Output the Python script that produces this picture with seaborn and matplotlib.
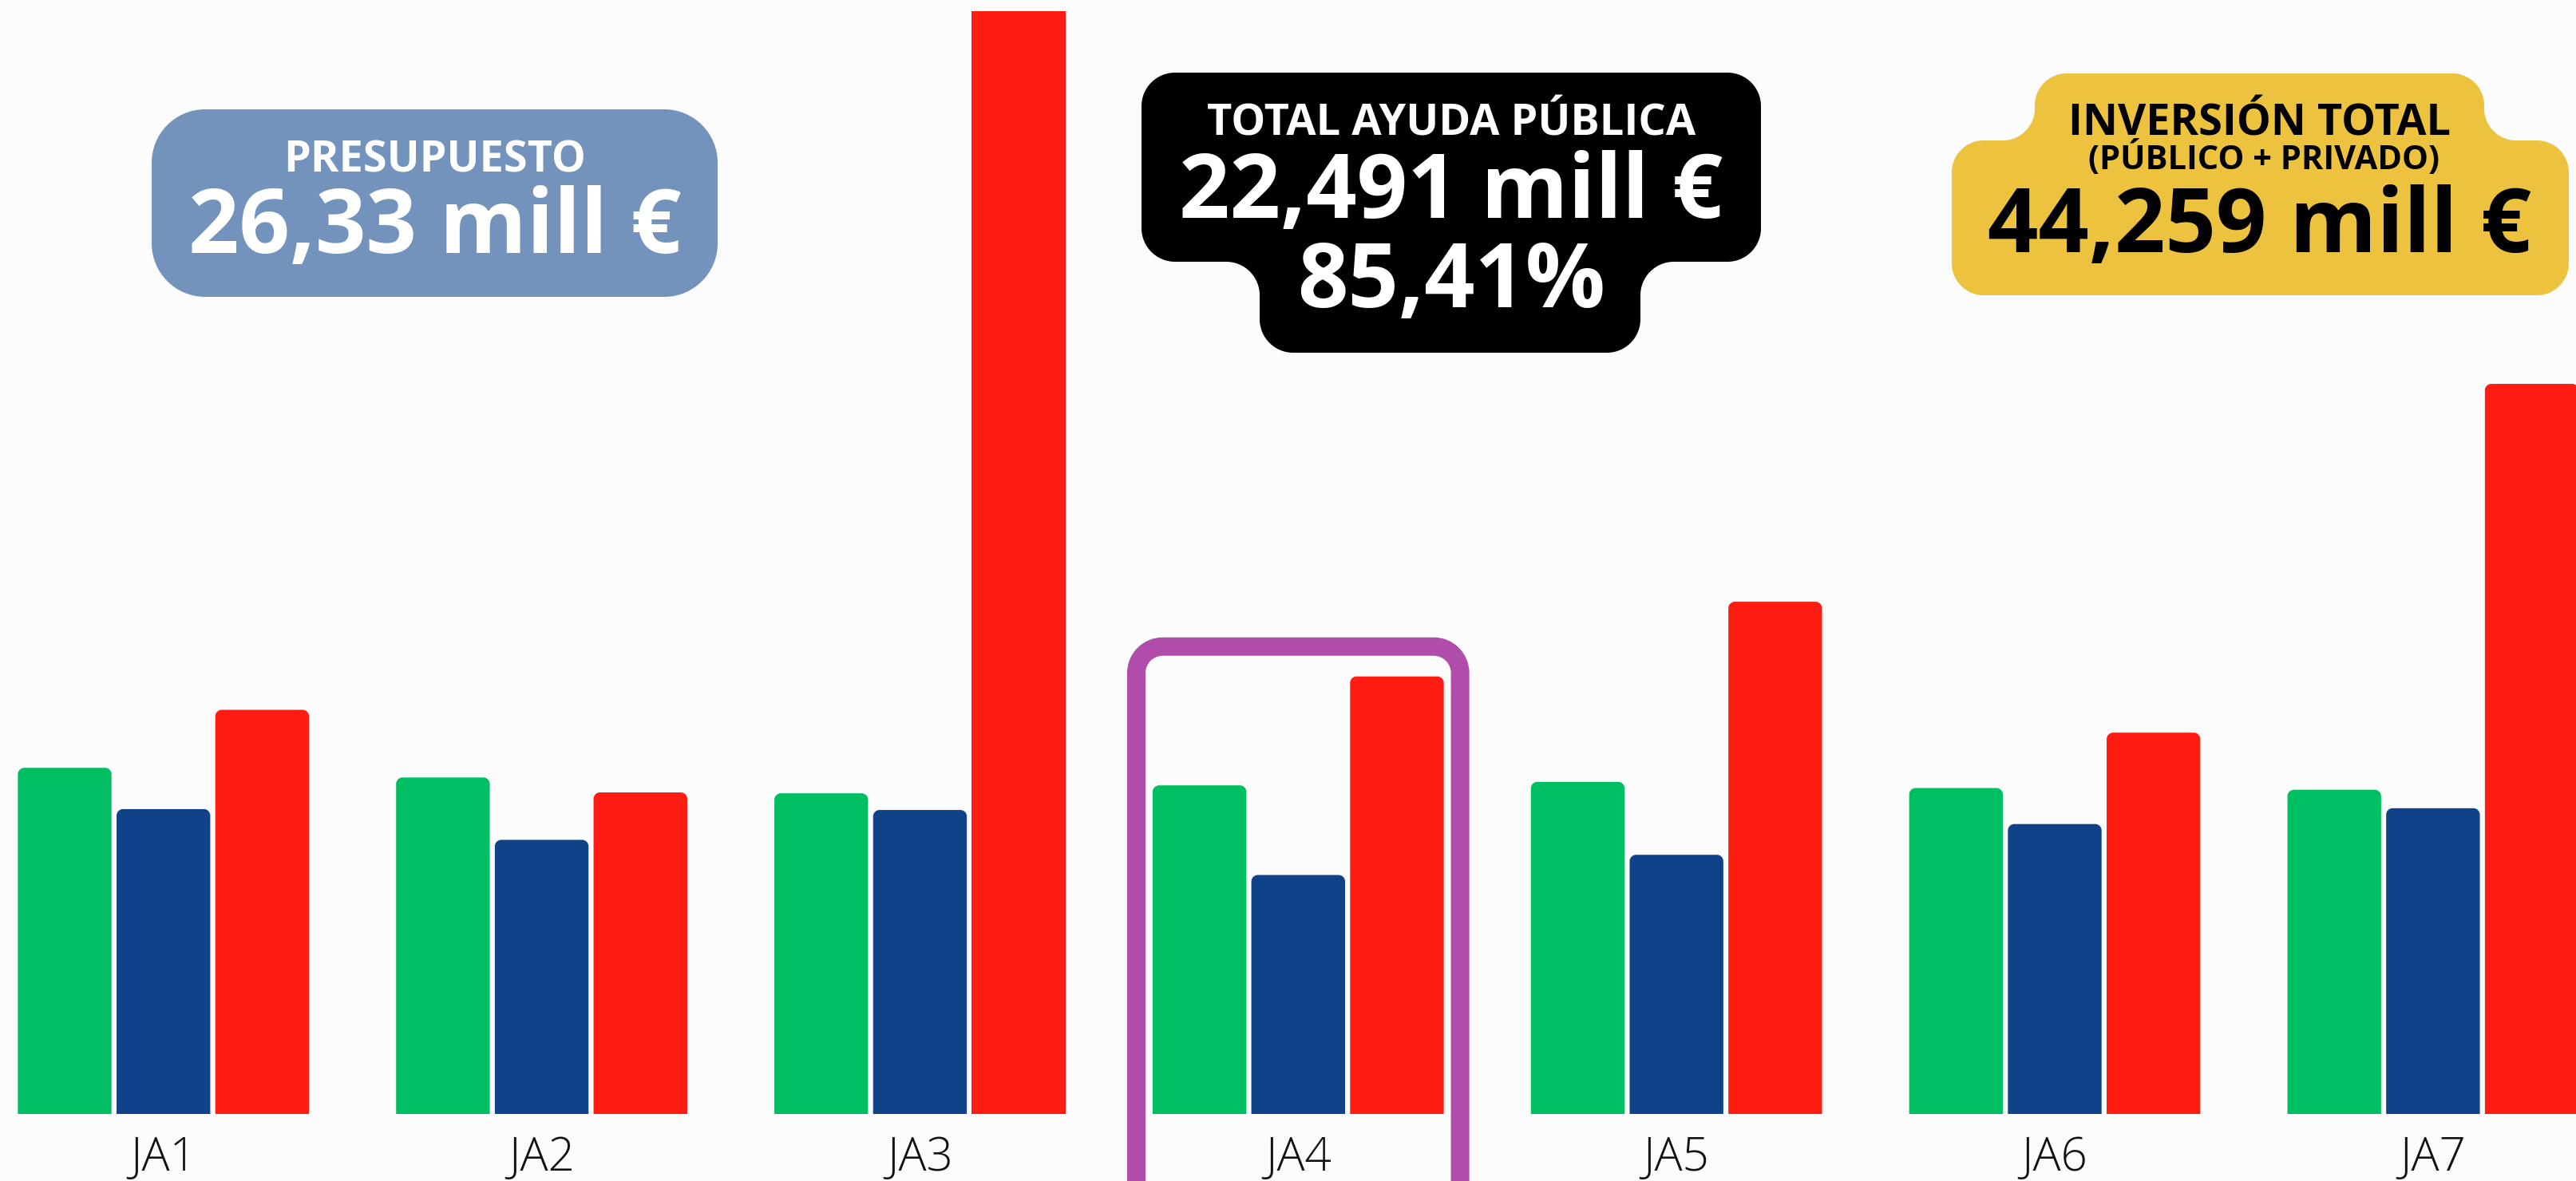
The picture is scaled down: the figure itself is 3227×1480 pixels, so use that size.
import numpy as np
import pandas as pd
import matplotlib
matplotlib.use("Agg")
import matplotlib.pyplot as plt
from matplotlib.path import Path
from matplotlib.patches import PathPatch
from matplotlib.transforms import Affine2D
import seaborn as sns

# ---------------- data (millones de euros) ----------------
zonas = ["JA1", "JA2", "JA3", "JA4", "JA5", "JA6", "JA7"]
series = ["Presupuesto", "Ayuda pública", "Inversión total"]
presupuesto = [3.94, 3.83, 3.65, 3.74, 3.78, 3.71, 3.69]
ayuda_publica = [3.47, 3.12, 3.46, 2.72, 2.95, 3.30, 3.48]
inversion_total = [4.60, 3.66, 12.56, 4.98, 5.83, 4.34, 8.31]
zona_destacada = "JA4"

box_presupuesto = ["PRESUPUESTO", "26,33 mill €"]
box_ayuda = ["TOTAL AYUDA PÚBLICA", "22,491 mill €", "85,41%"]
box_inversion = ["INVERSIÓN TOTAL", "(PÚBLICO + PRIVADO)", "44,259 mill €"]

colores = ["#00BF63", "#10428A", "#FF1C13"]
BG = "#FCFCFC"

df = pd.DataFrame({
    "zona": zonas * 3,
    "serie": np.repeat(series, len(zonas)),
    "valor": presupuesto + ayuda_publica + inversion_total,
})

# ---------------- figure ----------------
sns.set_theme(style="white")
plt.rcParams["font.family"] = ["Open Sans", "DejaVu Sans"]

W, H = 3227, 1480
fig = plt.figure(figsize=(W / 100, H / 100), dpi=100, facecolor=BG)
ax = fig.add_axes([0, 84 / H, 1, 1382 / H])
ax.set_facecolor(BG)

sns.barplot(data=df, x="zona", y="valor", hue="serie", order=zonas,
            hue_order=series, palette=colores, width=0.783, gap=0.051,
            saturation=1, linewidth=0, errorbar=None, legend=False, ax=ax)

ax.set_xlim(-0.432, 6.378)
ax.set_ylim(0, 12.552)
for s in ax.spines.values():
    s.set_visible(False)
ax.set_xlabel("")
ax.set_ylabel("")
ax.set_yticks([])
ax.tick_params(axis="x", length=0, pad=19, labelsize=42, labelcolor="#111111")
for lab in ax.get_xticklabels():
    lab.set_fontweight("light")

# pixel scale of the data axes
p0 = ax.transData.transform((0, 0))
p1 = ax.transData.transform((1, 1))
px_x = p1[0] - p0[0]
px_y = p1[1] - p0[1]

# rounded tops for bars
r = 8
rx, ry = r / px_x, r / px_y
ytop = ax.get_ylim()[1]
for patch in list(ax.patches):
    x0 = patch.get_x(); w = patch.get_width(); h = patch.get_height()
    if h <= 0:
        continue
    x1 = x0 + w
    if h >= ytop:
        continue  # clipped bar keeps a square top
    k = 0.5523
    verts = [(x0, 0), (x0, h - ry),
             (x0, h - ry + k * ry), (x0 + rx - k * rx, h), (x0 + rx, h),
             (x1 - rx, h),
             (x1 - rx + k * rx, h), (x1, h - ry + k * ry), (x1, h - ry),
             (x1, 0), (x0, 0)]
    codes = [Path.MOVETO, Path.LINETO,
             Path.CURVE4, Path.CURVE4, Path.CURVE4,
             Path.LINETO,
             Path.CURVE4, Path.CURVE4, Path.CURVE4,
             Path.LINETO, Path.CLOSEPOLY]
    pp = PathPatch(Path(verts, codes), facecolor=patch.get_facecolor(),
                   edgecolor="none", zorder=patch.get_zorder())
    ax.add_patch(pp)
    patch.set_visible(False)

# highlight box around JA4
i4 = zonas.index(zona_destacada)
top4 = max(presupuesto[i4], ayuda_publica[i4], inversion_total[i4]) + 0.34
hw = 0.428
bx0, bx1 = i4 - hw, i4 + hw
bot = -1.5
rr = 33
rx, ry = rr / px_x, rr / px_y
k = 0.5523
verts = [(bx0, bot), (bx0, top4 - ry),
         (bx0, top4 - ry + k * ry), (bx0 + rx - k * rx, top4), (bx0 + rx, top4),
         (bx1 - rx, top4),
         (bx1 - rx + k * rx, top4), (bx1, top4 - ry + k * ry), (bx1, top4 - ry),
         (bx1, bot)]
codes = [Path.MOVETO, Path.LINETO, Path.CURVE4, Path.CURVE4, Path.CURVE4,
         Path.LINETO, Path.CURVE4, Path.CURVE4, Path.CURVE4, Path.LINETO]
ax.add_patch(PathPatch(Path(verts, codes), facecolor="none", edgecolor="#B04DAA",
                       linewidth=23 * 72 / 100, clip_on=False, zorder=5,
                       capstyle="butt", joinstyle="round"))

# ---------------- annotation boxes (pixel coords, y downwards) ----------------
PIX = Affine2D().scale(1 / W, -1 / H).translate(0, 1) + fig.transFigure


def rounded_poly(pts, radii):
    n = len(pts)
    verts, codes = [], []
    k = 0.5523
    for i in range(n):
        P = np.array(pts[i], float)
        A = np.array(pts[i - 1], float)
        B = np.array(pts[(i + 1) % n], float)
        rr_ = radii[i] if np.iterable(radii) else radii
        ua = (A - P) / np.linalg.norm(A - P)
        ub = (B - P) / np.linalg.norm(B - P)
        s = P + ua * rr_
        e = P + ub * rr_
        verts.append(tuple(s)); codes.append(Path.MOVETO if i == 0 else Path.LINETO)
        verts += [tuple(s + (P - s) * k), tuple(e + (P - e) * k), tuple(e)]
        codes += [Path.CURVE4] * 3
    verts.append(verts[0]); codes.append(Path.CLOSEPOLY)
    return Path(verts, codes)


def add_shape(pts, radii, color):
    fig.patches.append(PathPatch(rounded_poly(pts, radii), transform=PIX,
                                 facecolor=color, edgecolor="none", zorder=10))


# PRESUPUESTO
add_shape([(190, 137), (899, 137), (899, 372), (190, 372)], 67, "#7393BC")
fig.text(545, 215, box_presupuesto[0], transform=PIX, ha="center", va="baseline",
         fontsize=39, fontweight="bold", color="white", zorder=11)
fig.text(545, 317, box_presupuesto[1], transform=PIX, ha="center", va="baseline",
         fontsize=80, fontweight="bold", color="white", zorder=11)

# TOTAL AYUDA PUBLICA
add_shape([(1430, 91), (2206, 91), (2206, 328), (2055, 328), (2055, 442),
           (1578, 442), (1578, 328), (1430, 328)], 42, "#000000")
fig.text(1818, 169, box_ayuda[0], transform=PIX, ha="center", va="baseline",
         fontsize=39, fontweight="bold", color="white", zorder=11)
fig.text(1818, 273, box_ayuda[1], transform=PIX, ha="center", va="baseline",
         fontsize=80, fontweight="bold", color="white", zorder=11)
fig.text(1818, 385, box_ayuda[2], transform=PIX, ha="center", va="baseline",
         fontsize=80, fontweight="bold", color="white", zorder=11)

# INVERSION TOTAL
add_shape([(2549, 92), (3112, 92), (3112, 176), (3218, 176), (3218, 370),
           (2445, 370), (2445, 176), (2549, 176)], 40, "#ECC23F")
fig.text(2831, 169, box_inversion[0], transform=PIX, ha="center", va="baseline",
         fontsize=39, fontweight="bold", color="black", zorder=11)
fig.text(2836, 212, box_inversion[1], transform=PIX, ha="center", va="baseline",
         fontsize=30, fontweight="bold", color="black", zorder=11)
fig.text(2830, 316, box_inversion[2], transform=PIX, ha="center", va="baseline",
         fontsize=80, fontweight="bold", color="black", zorder=11)

fig.savefig("out.png", dpi=100, facecolor=BG)
